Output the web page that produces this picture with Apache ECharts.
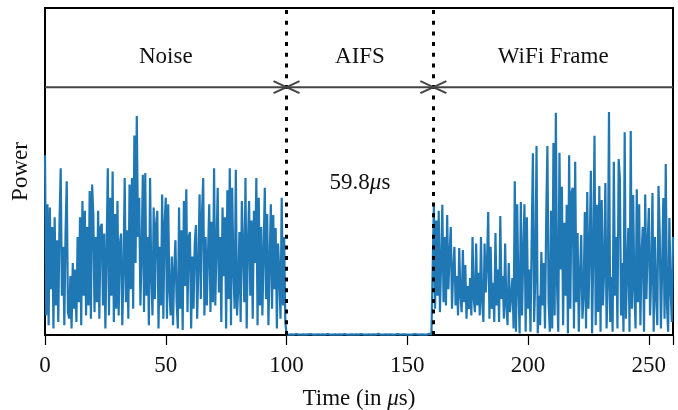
<!DOCTYPE html>
<html>
<head>
<meta charset="utf-8">
<script src="https://cdn.jsdelivr.net/npm/echarts@6/dist/echarts.min.js"></script>
<style>html,body{margin:0;padding:0;background:#fff}#c{width:678px;height:410px}</style>
</head>
<body>
<div id="c"></div>
<script>
// ---- data ----
const xTicks = [0, 50, 100, 150, 200, 250];
const sectionNames = ['Noise', 'AIFS', 'WiFi Frame'];
const sectionStart = [0, 100, 160.8];
const sectionEnd = [100, 160.8, 260];
const aifsLabel = '59.8';

// Noise: t = 0 .. 99.5 us, every 0.5 us
const noiseStart = 0, noiseStep = 0.5;
const noiseValues = [
  55, 6, 40, 3, 39, 14, 33, 2, 36, 9, 29, 4, 34, 51, 12, 27, 3, 31, 47, 7,
  5, 18, 2, 22, 8, 20, 4, 30, 10, 36, 3, 41, 12, 38, 6, 33, 9, 44, 5, 46,
  37, 7, 30, 10, 38, 5, 33, 34, 9, 31, 2, 26, 51, 6, 42, 12, 50, 4, 37, 8,
  41, 6, 28, 31, 3, 20, 48, 10, 32, 5, 46, 14, 48, 8, 61, 22, 67, 30, 42, 9,
  25, 49, 7, 49.5, 12, 30, 3, 48, 18, 6, 39, 11, 34, 38, 2, 27, 9, 43, 5, 34,
  42, 5, 40, 14, 6, 24, 3, 20, 29, 10, 2, 39, 8, 32, 1.5, 41, 15, 44.6, 7, 30,
  31.5, 2, 24, 8, 28, 33.6, 5, 21, 43, 11, 37, 48, 6, 30, 9, 25, 40, 7, 34.6, 10,
  51, 9, 27, 45, 13, 30, 4, 39, 18, 36, 2, 44.3, 11, 51, 3, 45, 20, 8, 50.5, 6,
  14, 31.5, 4, 41, 26, 10, 48, 2, 28, 41, 12, 35, 5, 38, 22, 48, 3, 42, 9, 33,
  6, 25, 45, 11, 37, 3, 22, 40, 8, 36.7, 14, 32.7, 2, 28, 19, 5, 42, 9, 30, 4
];
// AIFS (idle): t = 100 .. 160 us, every 1 us
const aifsStart = 100, aifsStep = 1;
const aifsValues = [
  0.2, 0.1, 0.2, 0.1, 0.3, 0.1, 0.1, 0.2, 0.1, 0.2, 0.3, 0.1, 0.1, 0.2, 0.1, 0.2,
  0.1, 0.3, 0.1, 0.1, 0.2, 0.1, 0.2, 0.1, 0.3, 0.1, 0.1, 0.2, 0.1, 0.2, 0.1, 0.3,
  0.1, 0.1, 0.2, 0.1, 0.2, 0.1, 0.4, 0.1, 0.1, 0.2, 0.1, 0.2, 0.1, 0.1, 0.3, 0.1,
  0.2, 0.2, 0.1, 0.1, 0.1, 0.3, 0.2, 0.1, 0.2, 0.1, 0.1, 0.4, 0.2
];
// WiFi frame: t = 161 .. 260 us, every 0.5 us
const wifiStart = 161, wifiStep = 0.5;
const wifiValues = [
  40, 8, 35, 12, 38, 7, 22, 39.8, 10, 30, 9, 36.7, 14, 25, 33, 8, 20, 27,
  9, 18, 6, 26.6, 12, 7, 26, 10, 21.4, 5, 15, 8, 17.4, 6, 30, 11, 7, 28, 9, 19,
  6, 30, 10, 4, 28, 13, 22, 37.6, 5, 27, 8, 16, 4, 31.2, 9, 20, 4, 36.4, 11, 18,
  5, 28, 9, 3, 22, 7, 12, 17.4, 2, 47, 1, 40, 14, 0.5, 40.7, 6, 25, 40, 1, 36,
  8, 20, 1, 30, 55.6, 4, 18, 57.8, 0.5, 12, 3, 25.4, 9, 22, 2, 35, 57.8, 10, 1, 38,
  2, 58.7, 6, 68, 15, 1, 55.7, 20, 45.3, 3, 34.3, 12, 39.8, 0.5, 55, 8, 43.7, 45, 2, 53,
  10, 31.2, 1, 18, 30.6, 5, 12, 37.6, 2, 43.7, 8, 26, 50.2, 0.5, 25, 60.9, 3, 39.8, 7, 45.6,
  1, 41.3, 9, 20, 46.5, 2, 15, 68.2, 4, 17.7, 1, 53, 12, 30, 2, 53.8, 48, 6, 22, 1,
  62, 5, 20, 32.7, 1, 62.4, 8, 42.8, 14, 2, 44.6, 10, 40, 3, 25, 33, 1, 43, 11, 28,
  38.8, 6, 18, 43.4, 1, 30, 12, 3, 45.6, 31.2, 2, 20, 41.9, 5, 52.3, 9, 1, 35.8, 14, 4, 30
];

// ---- build ----
function toPairs(start, step, vals) { return vals.map((v, i) => [start + i * step, v]); }
const signal = [].concat(
  toPairs(noiseStart, noiseStep, noiseValues),
  toPairs(aifsStart, aifsStep, aifsValues),
  toPairs(wifiStart, wifiStep, wifiValues)
);

const FONT = "'Liberation Serif', 'Times New Roman', serif";
const FS = 23;
const ARROW_Y = 75.8, LABEL_Y = 85, NOTE_Y = 46.5;

const chart = echarts.init(document.getElementById('c'), null, { renderer: 'canvas' });
chart.setOption({
  animation: false,
  backgroundColor: '#fff',
  grid: { left: 45, right: 5, top: 8, bottom: 75, containLabel: false, outerBoundsMode: 'none',
    show: true, borderColor: '#000', borderWidth: 2, backgroundColor: 'transparent' },
  xAxis: {
    type: 'value', min: 0, max: 260, interval: 50,
    name: '{a|Time (in }{i|μ}{a|s)}',
    nameLocation: 'middle', nameGap: 52,
    nameTextStyle: { rich: { a: { fontFamily: FONT, fontSize: FS, color: '#111' }, i: { fontFamily: FONT, fontSize: FS, fontStyle: 'italic', color: '#111' } } },
    axisLine: { show: true, lineStyle: { color: '#000', width: 2 } },
    axisTick: { show: true, inside: false, length: 10, lineStyle: { color: '#000', width: 1.2 } },
    axisLabel: { fontFamily: FONT, fontSize: FS, color: '#111', margin: 19, formatter: v => xTicks.indexOf(v) >= 0 ? String(v) : '' },
    splitLine: { show: false }
  },
  yAxis: {
    type: 'value', min: 0, max: 100,
    name: 'Power', nameLocation: 'middle', nameGap: 13, nameRotate: 90,
    nameTextStyle: { fontFamily: FONT, fontSize: FS, color: '#111' },
    axisLine: { show: true, lineStyle: { color: '#000', width: 2 } },
    axisTick: { show: false }, axisLabel: { show: false }, splitLine: { show: false }
  },
  series: [
    {
      type: 'line', data: signal, showSymbol: false, symbol: 'none',
      lineStyle: { color: '#1f77b4', width: 2.2 }, sampling: null, z: 2,
      markLine: {
        silent: true, symbol: ['none', 'none'], label: { show: false },
        lineStyle: { color: '#000', width: 3, type: [4, 6.7], opacity: 1 },
        data: [{ xAxis: sectionStart[1] }, { xAxis: sectionStart[2] }],
        z: 5
      }
    },
    {
      type: 'custom', coordinateSystem: 'cartesian2d', clip: false, silent: true, z: 6,
      encode: { x: [0, 1] },
      data: sectionNames.map((n, i) => [sectionStart[i], sectionEnd[i]]),
      renderItem: function (params, api) {
        const i = params.dataIndex;
        const p1 = api.coord([sectionStart[i], ARROW_Y]);
        const p2 = api.coord([sectionEnd[i], ARROW_Y]);
        const stroke = { stroke: '#444', lineWidth: 2, fill: null };
        const children = [
          { type: 'line', shape: { x1: p1[0], y1: p1[1], x2: p2[0], y2: p2[1] }, style: stroke }
        ];
        if (i > 0) children.push({ type: 'polyline', shape: { points: [[p1[0] + 13, p1[1] - 6], [p1[0], p1[1]], [p1[0] + 13, p1[1] + 6]] }, style: stroke });
        if (i < sectionNames.length - 1) children.push({ type: 'polyline', shape: { points: [[p2[0] - 13, p2[1] - 6], [p2[0], p2[1]], [p2[0] - 13, p2[1] + 6]] }, style: stroke });
        const mid = (sectionStart[i] + sectionEnd[i]) / 2;
        const lp = api.coord([mid, LABEL_Y]);
        children.push({ type: 'text', style: { x: lp[0], y: lp[1], text: sectionNames[i], fontFamily: FONT, fontSize: FS, fill: '#111', align: 'center', verticalAlign: 'middle' } });
        if (i === 1) {
          const np = api.coord([mid, NOTE_Y]);
          children.push({ type: 'text', style: { x: np[0], y: np[1], text: aifsLabel + '{i|μ}s', fontFamily: FONT, fontSize: FS, fill: '#111', align: 'center', verticalAlign: 'middle',
            rich: { i: { fontFamily: FONT, fontSize: FS, fontStyle: 'italic', fill: '#111' } } } });
        }
        return { type: 'group', children: children };
      }
    }
  ]
});
</script>
</body>
</html>
